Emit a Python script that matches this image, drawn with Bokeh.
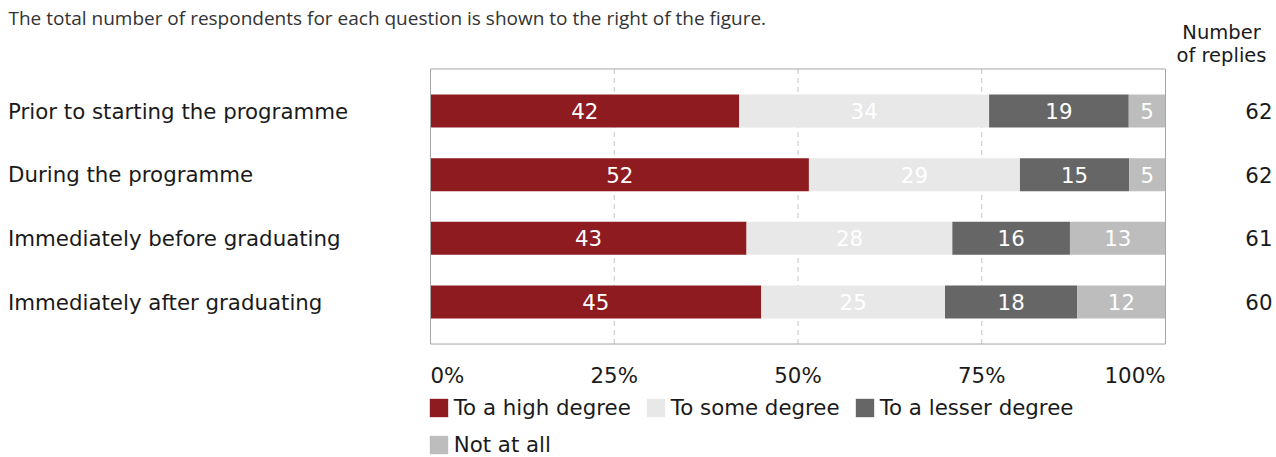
import numpy as np
from bokeh.plotting import figure
from bokeh.models import ColumnDataSource, Range1d, Legend, LegendItem
from bokeh.core.properties import value
from bokeh.embed import file_html
from bokeh.resources import INLINE

# ---------------- data ----------------
questions = ["Prior to starting the programme", "During the programme",
             "Immediately before graduating", "Immediately after graduating"]
series = ["To a high degree", "To some degree", "To a lesser degree", "Not at all"]
high = [42, 52, 43, 45]
some = [34, 29, 28, 25]
lesser = [19, 15, 16, 18]
not_at_all = [5, 5, 13, 12]
replies = [62, 62, 61, 60]
x_ticks = [0, 25, 50, 75, 100]
x_tick_labels = ["0%", "25%", "50%", "75%", "100%"]
header = ["Number", "of replies"]
note = "The total number of respondents for each question is shown to the right of the figure."

# ---------------- styles / layout ----------------
colors = ["#8E1B20", "#E8E8E8", "#666666", "#BDBDBD"]
FONT = "DejaVu Sans"
FS = "21.33px"
TXT = "#1A1A1A"
W, H = 1276, 457
X0_PX, PX_PER_PCT = 430.0, 7.35          # canvas px of 0 %, px per percent
ROW0_PX, PITCH = 110.5, 63.67             # canvas px of first row centre, row pitch
PAD = 0.66                                # frame padding in row units
BAR_H = 0.518


def xd(px):
    return (px - X0_PX) / PX_PER_PCT


def yd(px):
    return (px - ROW0_PX) / PITCH


n = len(questions)
rows = list(range(n))
vals = np.array([high, some, lesser, not_at_all], dtype=float)  # series x rows
totals = vals.sum(axis=0)
norm = vals / totals * 100.0

p = figure(width=W, height=H, output_backend="svg", toolbar_location=None,
           x_range=Range1d(xd(0), xd(W)), y_range=Range1d(yd(H), yd(0)),
           x_axis_type=None, y_axis_type=None, min_border=0,
           outline_line_color=None, background_fill_color="white",
           border_fill_color="white")

# grid lines (inner ticks)
p.segment(x0=x_ticks[1:-1], x1=x_ticks[1:-1], y0=-PAD, y1=n - 1 + PAD,
          line_color="#C4C4C4", line_width=1, line_dash="5 4")

# stacked bars
keys = ["s0", "s1", "s2", "s3"]
src = ColumnDataSource(dict(row=rows, **{k: norm[i] for i, k in enumerate(keys)}))
renderers = p.hbar_stack(keys, y="row", height=BAR_H, color=colors, line_color=None,
                         source=src)

# value labels
lx, ly, lt = [], [], []
cum = np.zeros(n)
for i in range(len(series)):
    for r in rows:
        lx.append(cum[r] + norm[i][r] / 2)
        ly.append(r)
        lt.append(str(int(vals[i][r])))
    cum += norm[i]
p.text(x=lx, y=ly, text=lt, text_align="center", text_baseline="middle",
       text_color="white", text_font=value(FONT), text_font_size=FS)

# frame box
p.quad(left=x_ticks[0], right=x_ticks[-1], top=-PAD, bottom=n - 1 + PAD,
       fill_color=None, line_color="#A6A6A6", line_width=1)

# category labels
p.text(x=[xd(7.5)] * n, y=rows, text=questions, text_align="left",
       text_baseline="middle", text_color=TXT, text_font=value(FONT), text_font_size=FS)

# replies
p.text(x=[xd(1272)] * n, y=rows, text=[str(v) for v in replies], text_align="right",
       text_baseline="middle", text_color=TXT, text_font=value(FONT), text_font_size=FS)

# header
p.text(x=[xd(1221)] * 2, y=[yd(32), yd(55)], text=header, text_align="center",
       text_baseline="alphabetic", text_color=TXT, text_font=value(FONT),
       text_font_size="19.5px")

# x tick labels
aligns = ["left"] + ["center"] * (len(x_ticks) - 2) + ["right"]
p.text(x=x_ticks, y=[yd(375)] * len(x_ticks), text=x_tick_labels, text_align=aligns,
       text_baseline="alphabetic", text_color=TXT, text_font=value(FONT), text_font_size=FS)

# note (top of the page)
p.text(x=[xd(8)], y=[yd(17)], text=[note], text_align="left", text_baseline="alphabetic",
       text_color="#333333", text_font=value("Open Sans"), text_font_size="19px")

# legends
def make_legend(items, loc_y):
    return Legend(items=items, orientation="horizontal", location=(426.7, loc_y),
                  padding=0, margin=0, spacing=13, border_line_color=None,
                  background_fill_alpha=0, glyph_width=23, glyph_height=23,
                  label_height=23, label_standoff=4, label_text_font=FONT,
                  label_text_font_size=FS, label_text_color=TXT)

leg1 = make_legend([LegendItem(label=series[i], renderers=[renderers[i]]) for i in range(3)], 37)
leg2 = make_legend([LegendItem(label=series[3], renderers=[renderers[3]])], 0)
p.add_layout(leg1)
p.add_layout(leg2)

open("out.html", "w").write(file_html(p, INLINE))
